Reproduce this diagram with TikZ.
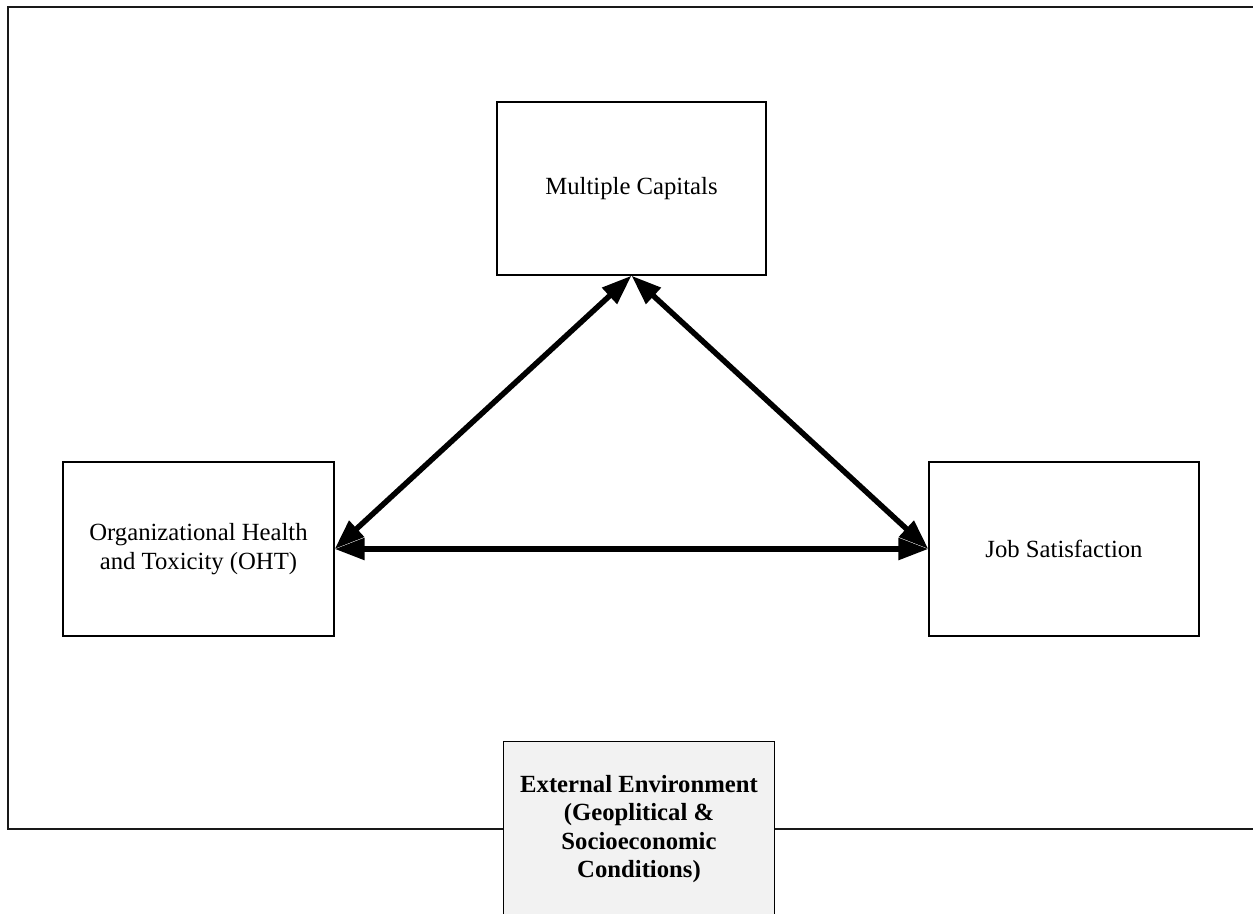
\documentclass[tikz,border=0pt]{standalone}
\usepackage{fontspec}
\setmainfont{Liberation Serif}
\usetikzlibrary{arrows.meta,backgrounds}
\definecolor{extgray}{HTML}{F2F2F2}
\begin{document}
\begin{tikzpicture}[x=1pt,y=-1pt,
  box/.style={draw=black, line width=1.3pt, fill=white, inner sep=0pt, align=center,
    font=\fontsize{24.7}{28.5}\selectfont},
  extnode/.style={inner sep=0pt, align=center, minimum width=270pt, minimum height=174pt,
    font=\fontsize{24.7}{28.5}\selectfont\bfseries},
  extbox/.style={draw=black, line width=1.3pt, fill=extgray},
  frameline/.style={draw=black!90, line width=1.5pt},
  biarrow/.style={line width=5.5pt, {Triangle[length=30pt,width=21pt]}-{Triangle[length=30pt,width=21pt]}}
]
\useasboundingbox (0,0) rectangle (1253,913);
\clip (0,0) rectangle (1253,913);

\node[box, minimum width=269pt, minimum height=173pt] (mc) at (631.5,188.5) {Multiple Capitals};
\node[box, minimum width=271pt, minimum height=174pt] (oht) at (198.5,549) {Organizational Health\\and Toxicity (OHT)};
\node[box, minimum width=270pt, minimum height=174pt] (js) at (1064,549) {Job Satisfaction};

\node[extnode] (ext) at (639,829) {External Environment\\(Geoplitical \&\\Socioeconomic\\Conditions)};

\coordinate (fTL) at (8,7);
\coordinate (fBL) at (8,829);
\coordinate (fTR) at (1300,7);
\coordinate (fBR) at (1300,829);

\begin{scope}[on background layer]
  \draw[frameline] (fTR) -- (fTL) -- (fBL) -- (fBR);
  \filldraw[extbox] ([yshift=-30pt]ext.south west) -- (ext.north west) -- (ext.north east) -- ([yshift=-30pt]ext.south east);
\end{scope}

\draw[biarrow] (mc.south) -- (oht.east);
\draw[biarrow] (mc.south) -- (js.west);
\draw[biarrow] (oht.east) -- (js.west);
\end{tikzpicture}
\end{document}
